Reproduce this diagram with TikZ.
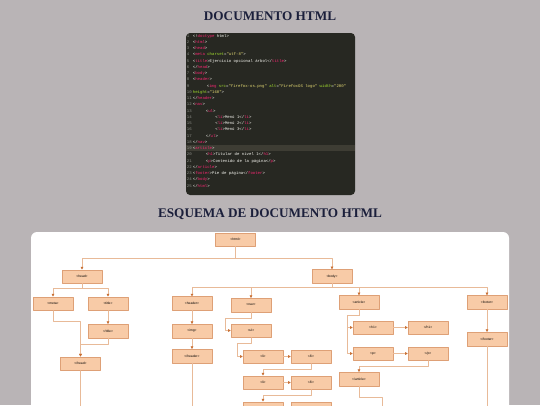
\documentclass[tikz,border=0pt]{standalone}
\usepackage{fontspec}
\setmainfont{Liberation Serif}
\setsansfont{Liberation Sans}
\setmonofont{Liberation Mono}
\usetikzlibrary{arrows.meta}
\definecolor{fondo}{RGB}{185,180,182}
\definecolor{titulo}{RGB}{27,31,59}
\definecolor{editor}{RGB}{39,40,34}
\definecolor{resalte}{RGB}{62,61,52}
\definecolor{numlinea}{RGB}{143,144,138}
\definecolor{textocod}{RGB}{248,248,242}
\definecolor{rosa}{RGB}{249,38,114}
\definecolor{verde}{RGB}{166,226,46}
\definecolor{amarillo}{RGB}{230,219,116}
\definecolor{cajafondo}{RGB}{248,203,167}
\definecolor{cajaborde}{RGB}{222,160,118}
\definecolor{linea}{RGB}{232,186,152}
\definecolor{punta}{RGB}{200,110,50}
\newcommand{\ctag}[1]{\textcolor{rosa}{#1}}
\newcommand{\cattr}[1]{\textcolor{verde}{#1}}
\newcommand{\cstr}[1]{\textcolor{amarillo}{#1}}
\tikzstyle{every node}=[font=\small]
\tikzstyle{every path}=[line width=0.8pt,line cap=round,line join=round]
\tikzstyle{etiqueta}=[draw=cajaborde,fill=cajafondo,line width=0.5pt,minimum width=40pt,
  minimum height=13.5pt,inner sep=0pt,font=\fontsize{3.3}{4}\sffamily]
\tikzstyle{enlace}=[draw=linea,line width=0.5pt,-{Triangle[length=2.6pt,width=2.6pt,color=punta]}]
\tikzstyle{codigo}=[anchor=base west,inner sep=0pt,text=textocod,font=\fontsize{4}{5}\ttfamily]
\tikzstyle{rotulo}=[text=titulo,font=\fontsize{13.2}{15}\selectfont\bfseries]

\begin{document}
\begin{tikzpicture}[x=1pt,y=-1pt]
  \useasboundingbox (0,0) rectangle (540,405);
  \fill[fondo] (0,0) rectangle (540,405);
  \node[rotulo] (titulo1) at (270,16.2) {DOCUMENTO HTML};
  \fill[editor,rounded corners=4pt] (186,33) rectangle (355,195);
  \fill[resalte] (186,145.2) rectangle (355,151.3);
  \foreach \n in {1,...,25}
    \node[codigo,text=numlinea] (n\n) at (186.5,{37.1+6.25*(\n-1)}) {\n};
  \node[codigo] (l1) at (192.5,0 |- n1.base) {<!\ctag{doctype} html>};
  \node[codigo] (l2) at (192.5,0 |- n2.base) {<\ctag{html}>};
  \node[codigo] (l3) at (192.5,0 |- n3.base) {<\ctag{head}>};
  \node[codigo] (l4) at (192.5,0 |- n4.base) {<\ctag{meta} \cattr{charset}=\cstr{"utf-8"}>};
  \node[codigo] (l5) at (192.5,0 |- n5.base) {<\ctag{title}>Ejercicio opcional árbol</\ctag{title}>};
  \node[codigo] (l6) at (192.5,0 |- n6.base) {</\ctag{head}>};
  \node[codigo] (l7) at (192.5,0 |- n7.base) {<\ctag{body}>};
  \node[codigo] (l8) at (192.5,0 |- n8.base) {<\ctag{header}>};
  \node[codigo] (l9) at (206.5,0 |- n9.base) {<\ctag{img} \cattr{src}=\cstr{"firefox-os.png"}
    \cattr{alt}=\cstr{"FirefoxOS logo"} \cattr{width}=\cstr{"200"}};
  \node[codigo] (l10) at (192.5,0 |- n10.base) {\cattr{height}=\cstr{"160"}>};
  \node[codigo] (l11) at (192.5,0 |- n11.base) {</\ctag{header}>};
  \node[codigo] (l12) at (192.5,0 |- n12.base) {<\ctag{nav}>};
  \node[codigo] (l13) at (205.5,0 |- n13.base) {<\ctag{ul}>};
  \node[codigo] (l14) at (215,0 |- n14.base) {<\ctag{li}>Menú 1</\ctag{li}>};
  \node[codigo] (l15) at (215,0 |- n15.base) {<\ctag{li}>Menú 2</\ctag{li}>};
  \node[codigo] (l16) at (215,0 |- n16.base) {<\ctag{li}>Menú 3</\ctag{li}>};
  \node[codigo] (l17) at (205.5,0 |- n17.base) {</\ctag{ul}>};
  \node[codigo] (l18) at (192.5,0 |- n18.base) {</\ctag{nav}>};
  \node[codigo] (l19) at (192.5,0 |- n19.base) {<\ctag{article}>};
  \node[codigo] (l20) at (205.5,0 |- n20.base) {<\ctag{h1}>Titular de nivel 1</\ctag{h1}>};
  \node[codigo] (l21) at (205.5,0 |- n21.base) {<\ctag{p}>Contenido de la página</\ctag{p}>};
  \node[codigo] (l22) at (192.5,0 |- n22.base) {</\ctag{article}>};
  \node[codigo] (l23) at (192.5,0 |- n23.base) {<\ctag{footer}>Pie de página</\ctag{footer}>};
  \node[codigo] (l24) at (192.5,0 |- n24.base) {</\ctag{body}>};
  \node[codigo] (l25) at (192.5,0 |- n25.base) {</\ctag{html}>};

  \node[rotulo] (titulo2) at (270,214) {ESQUEMA DE DOCUMENTO HTML};
  \fill[white,rounded corners=6pt] (31,232) rectangle (509,430);

  \node[etiqueta] (html) at (235.5,239.5) {<html>};
  \node[etiqueta] (head) at (82,276.5) {<head>};
  \node[etiqueta] (body) at (332,276.3) {<body>};
  \node[etiqueta] (meta) at (53,303.5) {<meta>};
  \node[etiqueta] (title) at (108,303.5) {<title>};
  \node[etiqueta] (ctitle) at (108,331) {</title>};
  \node[etiqueta] (chead) at (80.5,363.5) {</head>};
  \node[etiqueta] (header) at (192,303.4) {<header>};
  \node[etiqueta] (img) at (192,331) {<img>};
  \node[etiqueta] (cheader) at (192,356) {</header>};
  \node[etiqueta] (nav) at (251,305) {<nav>};
  \node[etiqueta] (ul) at (251,330.5) {<ul>};
  \node[etiqueta] (li1) at (263,356.5) {<li>};
  \node[etiqueta] (cli1) at (311,356.5) {</li>};
  \node[etiqueta] (li2) at (263,382.5) {<li>};
  \node[etiqueta] (cli2) at (311,382.5) {</li>};
  \node[etiqueta] (li3) at (263,408.5) {<li>};
  \node[etiqueta] (cli3) at (311,408.5) {</li>};
  \node[etiqueta] (article) at (359,302.3) {<article>};
  \node[etiqueta] (h1) at (373,327.5) {<h1>};
  \node[etiqueta] (ch1) at (428,327.5) {</h1>};
  \node[etiqueta] (p) at (373,353.5) {<p>};
  \node[etiqueta] (cp) at (428,353.5) {</p>};
  \node[etiqueta] (carticle) at (359,379) {</article>};
  \node[etiqueta] (footer) at (487,302.3) {<footer>};
  \node[etiqueta] (cfooter) at (487,339) {</footer>};
  \coordinate (finhead) at (80.5,412);
  \coordinate (finheader) at (192,412);
  \coordinate (finarticle) at (382,412);
  \coordinate (finfooter) at (487,412);

  \draw[enlace] (html.south) -- ++(0,12) -| (head.north);
  \draw[enlace] (html.south) -- ++(0,12) -| (body.north);
  \draw[enlace] (head.south) -- ++(0,5) -| (meta.north);
  \draw[enlace] (head.south) -- ++(0,5) -| (title.north);
  \draw[enlace] (title) -- (ctitle);
  \draw[enlace] (meta.south) -- ++(0,11) -| (chead.north);
  \draw[enlace] (ctitle.south) -- ++(0,6) -| (chead.north);
  \draw[enlace,-] (chead) -- (finhead);
  \foreach \hijo in {header,nav,article,footer}
    \draw[enlace] (body.south) -- ++(0,4) -| (\hijo.north);
  \draw[enlace] (header) -- (img);
  \draw[enlace] (img) -- (cheader);
  \draw[enlace,-] (cheader) -- (finheader);
  \draw[enlace] (nav.south) -- ++(0,6) -| ([xshift=-6pt]ul.west) -- (ul.west);
  \draw[enlace] (ul.south) -- ++(0,6) -| ([xshift=-6pt]li1.west) -- (li1.west);
  \draw[enlace] (li1) -- (cli1);
  \draw[enlace] (cli1.south) -- ++(0,6) -| (li2.north);
  \draw[enlace] (li2) -- (cli2);
  \draw[enlace] (cli2.south) -- ++(0,6) -| (li3.north);
  \draw[enlace] (li3) -- (cli3);
  \draw[enlace] (article.south) -- ++(0,6) -| ([xshift=-6pt]h1.west) -- (h1.west);
  \draw[enlace] (article.south) -- ++(0,6) -| ([xshift=-6pt]p.west) -- (p.west);
  \draw[enlace] (h1) -- (ch1);
  \draw[enlace] (p) -- (cp);
  \draw[enlace] (cp.south) -- ++(0,6) -| (carticle.north);
  \draw[enlace,-] (carticle.south) -- ++(0,11) -| (finarticle);
  \draw[enlace] (footer) -- (cfooter);
  \draw[enlace,-] (cfooter) -- (finfooter);
\end{tikzpicture}
\end{document}
